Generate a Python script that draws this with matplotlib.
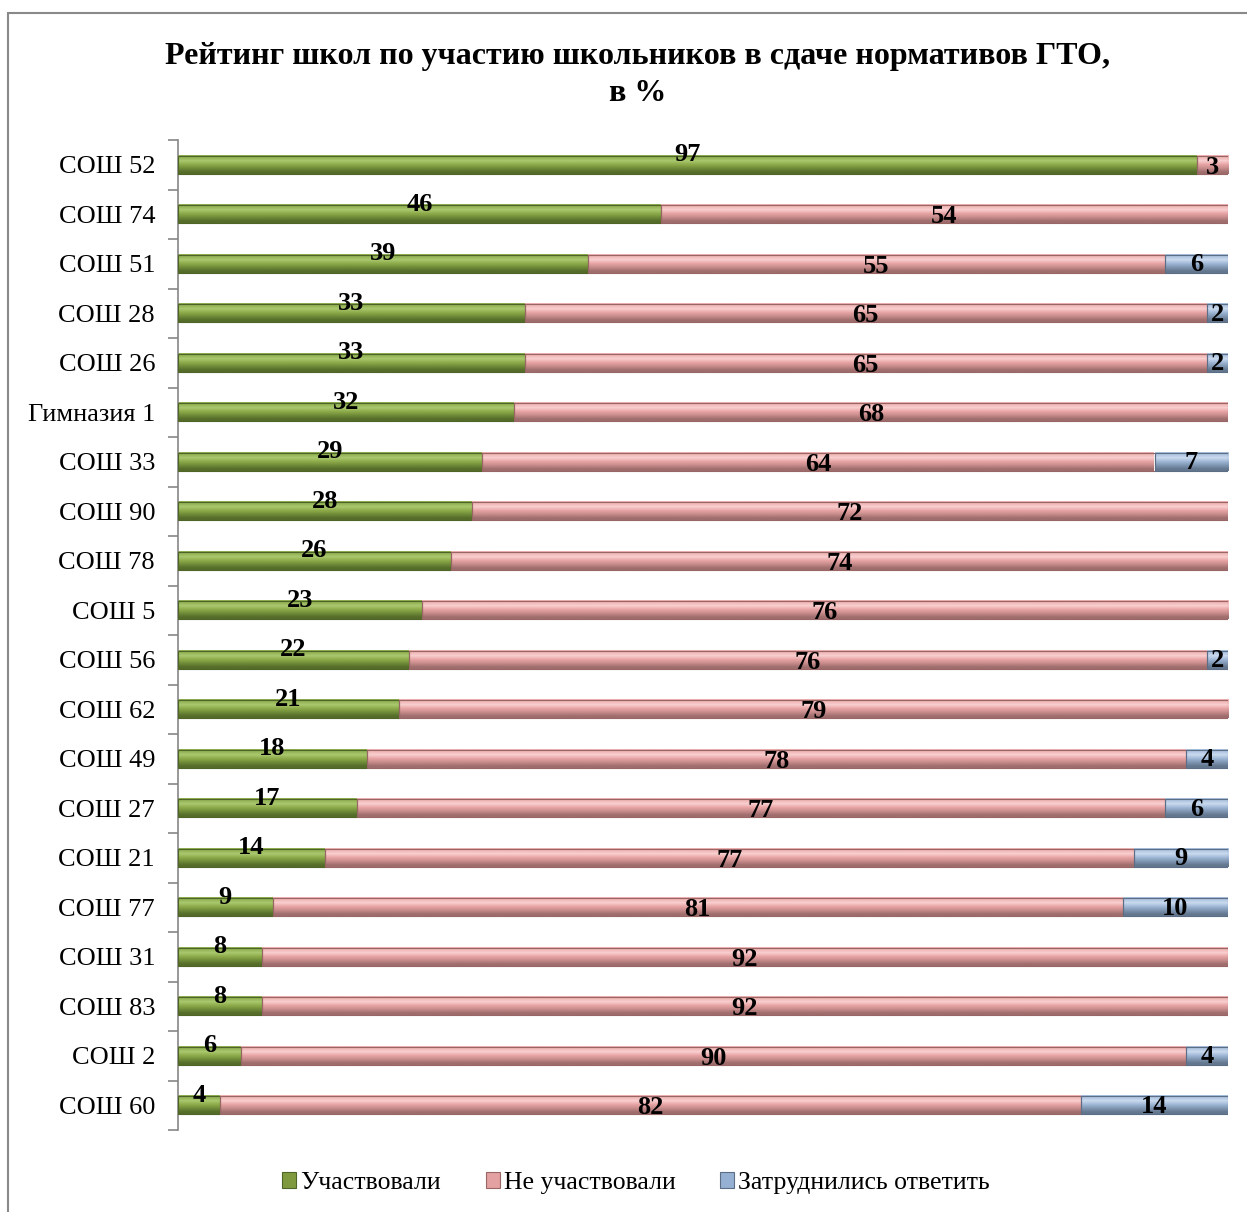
import numpy as np
import matplotlib
matplotlib.use("Agg")
import matplotlib.pyplot as plt
from matplotlib.patches import Patch, Rectangle
from matplotlib.colors import to_rgb

plt.rcParams['font.family'] = ['Liberation Serif', 'DejaVu Serif']

schools = ["СОШ 52", "СОШ 74", "СОШ 51", "СОШ 28", "СОШ 26", "Гимназия 1", "СОШ 33",
           "СОШ 90", "СОШ 78", "СОШ 5", "СОШ 56", "СОШ 62", "СОШ 49", "СОШ 27",
           "СОШ 21", "СОШ 77", "СОШ 31", "СОШ 83", "СОШ 2", "СОШ 60"]
took_part = [97, 46, 39, 33, 33, 32, 29, 28, 26, 23, 22, 21, 18, 17, 14, 9, 8, 8, 6, 4]
not_part = [3, 54, 55, 65, 65, 68, 64, 72, 74, 76, 76, 79, 78, 77, 77, 81, 92, 92, 90, 82]
unsure = [0, 0, 6, 2, 2, 0, 7, 0, 0, 0, 2, 0, 4, 6, 9, 10, 0, 0, 4, 14]
series_names = ["Участвовали", "Не участвовали", "Затруднились ответить"]

# gradient stops top -> bottom for the "tube" look
shades = [
    ['#8fae52', '#aac86e', '#8dab4a', '#6f8b38', '#556c2a'],
    ['#eeb2b2', '#f9cfcf', '#e8a4a4', '#c68a8a', '#9f6d6d'],
    ['#a9c0dd', '#cadaee', '#9fb8d6', '#7f96b2', '#63778e'],
]
edges = ['#4f6527', '#9a6565', '#5b6e86']
mids = ['#7f9a3e', '#e3a1a1', '#95b0d2']

W, H = 1247, 1212
fig = plt.figure(figsize=(W / 100, H / 100), dpi=100)
ax = fig.add_axes([178 / W, 1 - 1130 / H, (1228 - 178) / W, (1130 - 140) / H])

y = np.arange(len(schools))
bar_h = 0.37
data = np.array([took_part, not_part, unsure], dtype=float)
# 100% stacked: each row scaled to its total
shares = data / data.sum(axis=0) * 100
left = np.zeros(len(schools))
for k in range(3):
    grad = np.array([to_rgb(c) for c in shades[k]])[:, None, :]
    for i in range(len(schools)):
        w = shares[k, i]
        if w <= 0:
            continue
        ax.imshow(grad, extent=(left[i], left[i] + w, y[i] + bar_h / 2, y[i] - bar_h / 2),
                  aspect='auto', interpolation='bilinear', zorder=2)
        ax.barh(y[i], w, left=left[i], height=bar_h, fill=False,
                edgecolor=edges[k], linewidth=0.8, zorder=3)
        if k == 0:
            dy = -0.2
        elif k == 1:
            dy = 0.05
        else:
            dy = 0.02
        ax.text(left[i] + w / 2, y[i] + dy, str(int(data[k, i])), ha='center', va='center',
                fontsize=19, fontweight='bold', zorder=5)
    left += shares[k]

ax.set_xlim(0, 100)
ax.set_ylim(len(schools) - 0.5, -0.5)
ax.set_yticks(y)
ax.set_yticklabels(schools, fontsize=19)
ax.set_yticks(np.arange(len(schools) + 1) - 0.5, minor=True)
ax.tick_params(axis='y', which='major', length=0, pad=16.5)
ax.tick_params(axis='y', which='minor', length=7, color='#868686', width=1.2)
ax.set_xticks([])
for s in ['top', 'right', 'bottom']:
    ax.spines[s].set_visible(False)
ax.spines['left'].set_color('#868686')
ax.spines['left'].set_linewidth(1.2)

fig.text(638 / W, 1 - 75 / H, "Рейтинг школ по участию школьников в сдаче нормативов ГТО,\nв %",
         ha='center', va='center', fontsize=23, fontweight='bold', linespacing=1.4)

handles = [Patch(facecolor=mids[k], edgecolor=edges[k], linewidth=0.8) for k in range(3)]
fig.legend(handles, series_names, loc='center', bbox_to_anchor=(636 / W, 1 - 1183 / H),
           ncol=3, frameon=False, fontsize=18.5, handlelength=0.55, handleheight=0.55,
           handletextpad=0.15, columnspacing=1.75)

fig.add_artist(Rectangle((8 / W, -0.05), 1.2, (1 - 13 / H) + 0.05, transform=fig.transFigure,
                         fill=False, edgecolor='#898989', linewidth=1.5))

fig.savefig("out.png", dpi=100)
